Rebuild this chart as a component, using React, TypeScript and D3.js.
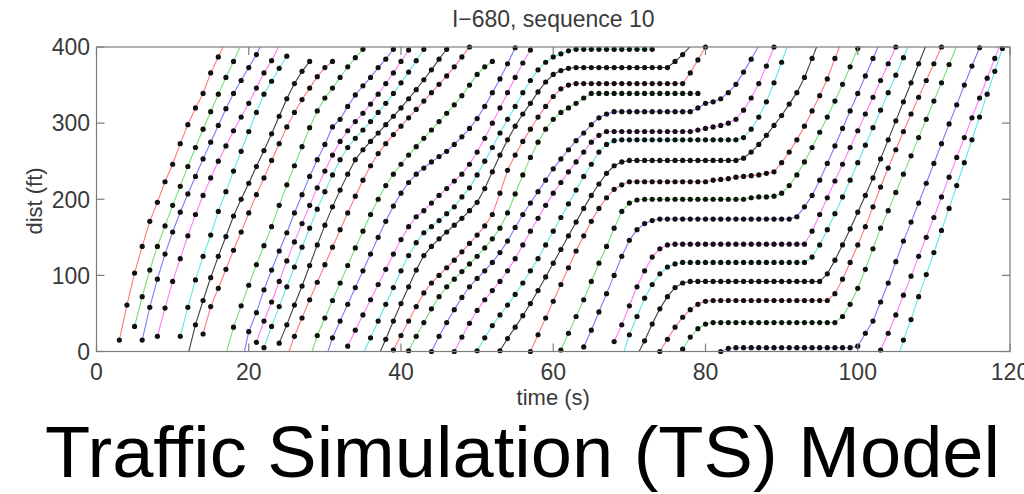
import React from "react";
import * as d3 from "d3";

// ---- axis ticks ----
const xTicks = [0, 20, 40, 60, 80, 100, 120];
const yTicks = [0, 100, 200, 300, 400];

// ---- vehicle colour order (MATLAB r g b m c k cycle) ----
const colorCycle = ["r", "g", "b", "m", "c", "k"];

// ---- start time (s) of each vehicle's first sample; samples are 1 s apart ----
const startTimes = [3, 5, 6, 8, 11, 12, 14, 17, 19, 21, 22, 24, 25, 28, 30, 33, 35, 37, 39, 41, 44, 47, 50, 53, 57, 61, 64, 68, 69, 71, 74, 77, 82, 103, 105];

// ---- distance (ft) of each vehicle, one value per second ----
const v01 = [15, 61, 103, 138, 171, 196, 223, 246, 273, 298, 320, 339, 366, 387, 408];
const v02 = [33, 72, 107, 138, 165, 192, 217, 243, 268, 292, 315, 338, 360, 381, 403];
const v03 = [15, 58, 95, 128, 157, 183, 207, 230, 253, 275, 297, 319, 339, 356, 373, 390, 410];
const v04 = [20, 57, 92, 122, 152, 180, 205, 228, 250, 270, 290, 308, 326, 346, 366, 382, 402];
const v05 = [20, 58, 94, 125, 153, 184, 210, 237, 263, 289, 314, 338, 355, 372, 388];
const v06 = [-5, 35, 67, 97, 125, 151, 178, 200, 221, 243, 264, 286, 309, 332, 352, 368, 381];
const v07 = [23, 59, 83, 108, 133, 157, 182, 206, 228, 251, 273, 295, 314, 331, 346, 361, 373, 381];
const v08 = [-4, 32, 60, 87, 114, 139, 164, 192, 219, 244, 269, 294, 316, 333, 346, 360, 374, 386, 397, 410];
const v09 = [-20, 26, 51, 81, 107, 132, 156, 182, 206, 230, 252, 272, 295, 305, 322, 337, 349, 360, 373, 384, 397, 410];
const v10 = [12, 40, 65, 92, 119, 144, 168, 192, 215, 237, 258, 276, 290, 302, 313, 325, 338, 352, 366, 381, 396, 410];
const v11 = [5, 33, 59, 85, 111, 137, 162, 187, 210, 232, 252, 268, 280, 291, 302, 314, 326, 339, 353, 367, 382, 397, 411];
const v12 = [11, 35, 61, 86, 113, 140, 166, 190, 212, 233, 252, 265, 276, 287, 298, 309, 320, 332, 344, 357, 370, 384, 397, 410];
const v13 = [-8, 20, 44, 68, 91, 114, 137, 160, 182, 204, 225, 244, 260, 273, 285, 296, 307, 318, 329, 340, 351, 362, 374, 387, 400, 412];
const v14 = [-10, 21, 44, 67, 90, 113, 136, 158, 180, 200, 218, 233, 246, 258, 269, 280, 291, 302, 313, 324, 336, 350, 364, 374, 381];
const v15 = [-12, 18, 40, 62, 84, 106, 128, 150, 171, 191, 208, 222, 233, 241, 249, 256, 263, 272, 282, 293, 306, 322, 340, 358, 378, 399, 420];
const v16 = [7, 28, 48, 68, 88, 108, 128, 147, 164, 177, 185, 195, 205, 214, 224, 233, 246, 262, 280, 300, 320, 340, 360, 379, 396, 414];
const v17 = [-3, 18, 40, 62, 84, 106, 126, 143, 156, 164, 172, 181, 190, 203, 215, 232, 250, 268, 287, 305, 322, 340, 356, 370, 380, 387, 391, 395, 397, 397, 397, 397, 397, 397, 397, 397, 397, 397, 397];
const v18 = [-6, 16, 40, 63, 85, 107, 126, 138, 148, 157, 166, 175, 185, 196, 214, 236, 258, 278, 296, 312, 326, 341, 354, 364, 369, 372, 373, 373, 373, 373, 373, 373, 373, 373, 373, 373, 373, 373, 373, 381, 390, 401];
const v19 = [2, 21, 40, 59, 77, 90, 100, 110, 120, 131, 142, 153, 165, 180, 208, 238, 258, 276, 292, 308, 322, 335, 345, 350, 352, 352, 352, 352, 352, 352, 352, 352, 352, 352, 352, 352, 352, 352, 352, 366, 383, 400, 418];
const v20 = [1, 20, 38, 56, 72, 85, 95, 105, 115, 125, 136, 148, 162, 182, 207, 232, 255, 275, 292, 305, 314, 320, 326, 333, 339, 339, 339, 339, 339, 339, 339, 339, 339, 339, 339, 339, 339, 339, 339];
const v21 = [0, 20, 38, 55, 71, 85, 96, 106, 117, 130, 145, 163, 180, 195, 210, 225, 240, 253, 265, 277, 287, 298, 307, 312, 315, 315, 315, 315, 315, 315, 315, 315, 315, 315, 315, 320, 326, 328, 332, 340, 351, 367, 384, 402];
const v22 = [0, 19, 37, 54, 68, 80, 92, 106, 122, 140, 158, 175, 192, 208, 222, 236, 249, 262, 275, 284, 289, 289, 289, 289, 289, 289, 289, 289, 289, 289, 289, 289, 291, 293, 295, 297, 300, 305, 317, 333, 352, 375, 400, 424];
const v23 = [1, 18, 34, 48, 61, 75, 90, 106, 122, 140, 158, 176, 194, 212, 230, 246, 262, 272, 277, 278, 278, 278, 278, 278, 278, 278, 278, 278, 278, 278, 278, 278, 278, 278, 278, 281, 292, 308, 328, 353, 380, 408];
const v24 = [1, 17, 32, 47, 63, 80, 98, 116, 134, 152, 170, 188, 205, 220, 234, 244, 249, 251, 251, 251, 251, 251, 251, 251, 251, 251, 251, 251, 251, 251, 251, 251, 254, 262, 272, 284, 297, 310, 325, 340, 360, 385, 410];
const v25 = [0, 22, 44, 66, 88, 110, 132, 152, 171, 188, 202, 213, 219, 223, 223, 223, 223, 223, 223, 223, 223, 223, 223, 223, 225, 226, 227, 229, 230, 231, 232, 234, 236, 248, 262, 278, 296, 316, 336, 358, 385, 410];
const v26 = [2, 24, 46, 68, 92, 116, 138, 162, 184, 195, 199, 200, 200, 200, 200, 200, 200, 200, 200, 200, 200, 200, 200, 200, 200, 202, 203, 203, 204, 208, 218, 232, 249, 268, 288, 308, 329, 351, 374, 398, 422];
const v27 = [6, 28, 52, 76, 100, 125, 146, 160, 168, 172, 174, 174, 174, 174, 174, 174, 174, 174, 174, 174, 174, 174, 174, 174, 174, 174, 174, 174, 177, 190, 205, 225, 247, 270, 293, 316, 339, 362, 385, 408];
const v28 = [13, 35, 60, 85, 106, 124, 135, 140, 141, 141, 141, 141, 141, 141, 141, 141, 141, 141, 141, 141, 141, 141, 141, 141, 141, 141, 158, 180, 202, 224, 246, 268, 290, 312, 334, 356, 378, 400, 422];
const v29 = [-10, 22, 46, 70, 88, 102, 111, 115, 117, 117, 117, 117, 117, 117, 117, 117, 117, 117, 117, 117, 117, 117, 117, 117, 117, 124, 140, 160, 181, 203, 225, 248, 271, 294, 317, 340, 363, 386, 409];
const v30 = [-5, 14, 36, 56, 72, 84, 90, 92, 92, 92, 92, 92, 92, 92, 92, 92, 92, 92, 92, 92, 92, 92, 92, 92, 92, 102, 120, 140, 161, 183, 205, 228, 253, 278, 303, 328, 353, 378, 403];
const v31 = [0, 16, 32, 45, 55, 62, 66, 67, 67, 67, 67, 67, 67, 67, 67, 67, 67, 67, 67, 67, 67, 67, 67, 76, 95, 117, 140, 164, 190, 216, 241, 265, 289, 312, 334, 356, 378, 400, 422];
const v32 = [3, 19, 30, 36, 38, 38, 38, 38, 38, 38, 38, 38, 38, 38, 38, 38, 38, 38, 38, 38, 38, 46, 62, 83, 108, 135, 162, 185, 209, 233, 257, 281, 305, 329, 353, 377, 401];
const v33 = [0, 4, 5, 5, 5, 5, 5, 5, 5, 5, 5, 5, 5, 5, 5, 5, 5, 5, 7, 24, 40, 65, 90, 118, 145, 170, 195, 221, 247, 273, 299, 324, 350, 375, 399, 424];
const v34 = [2, 24, 48, 74, 99, 125, 150, 176, 203, 229, 255, 281, 307, 333, 359, 385, 411];
const v35 = [-15, 15, 42, 72, 101, 130, 159, 188, 218, 248, 278, 308, 338, 368, 398, 428];

const vehicles = [v01, v02, v03, v04, v05, v06, v07, v08, v09, v10, v11, v12, v13, v14, v15, v16, v17, v18, v19, v20, v21, v22, v23, v24, v25, v26, v27, v28, v29, v30, v31, v32, v33, v34, v35];

const colorMap: Record<string, string> = {
  r: "#ff7a7a",
  g: "#74e074",
  b: "#7a7aff",
  m: "#ff7aff",
  c: "#5fe6e6",
  k: "#404040",
};

const W = 1024;
const H = 494;
const left = 96.5;
const right = 1010;
const top = 47;
const bottom = 351.5;

export default function App() {
  const x = d3.scaleLinear().domain([0, 120]).range([left, right]);
  const y = d3.scaleLinear().domain([0, 400]).range([bottom, top]);
  const line = d3
    .line<[number, number]>()
    .x((p) => x(p[0]))
    .y((p) => y(p[1]));

  const series = vehicles.map((arr, i) => {
    const t0 = startTimes[i];
    const pts: [number, number][] = arr.map((d, k) => [t0 + k, d]);
    return { pts, color: colorMap[colorCycle[i % 6]] };
  });

  const font = "'Liberation Sans', Arial, Helvetica, sans-serif";
  const axisColor = "#7c7c7c";
  const textColor = "#3a3a3a";

  return (
    <svg
      width={W}
      height={H}
      style={{ position: "absolute", left: 0, top: 0, background: "#fff" }}
    >
      <defs>
        <clipPath id="plotClip">
          <rect x={left} y={top} width={right - left} height={bottom - top} />
        </clipPath>
      </defs>
      <rect x={0} y={0} width={W} height={H} fill="#fff" />

      {/* trajectories */}
      {series.map((s, i) => (
        <g key={i}>
          <path
            d={line(s.pts) || ""}
            fill="none"
            stroke={s.color}
            strokeWidth={1.1}
            clipPath="url(#plotClip)"
          />
          {s.pts
            .filter((p) => p[1] >= 0 && p[1] <= 400 && p[0] >= 0 && p[0] <= 120)
            .map((p, k) => (
              <circle key={k} cx={x(p[0])} cy={y(p[1])} r={2.6} fill="#111" />
            ))}
        </g>
      ))}

      {/* axes box */}
      <rect
        x={left}
        y={top}
        width={right - left}
        height={bottom - top}
        fill="none"
        stroke={axisColor}
        strokeWidth={1.2}
      />
      {xTicks.map((t) => (
        <g key={"x" + t}>
          <line x1={x(t)} x2={x(t)} y1={bottom} y2={bottom - 8} stroke={axisColor} strokeWidth={1.2} />
          <line x1={x(t)} x2={x(t)} y1={top} y2={top + 8} stroke={axisColor} strokeWidth={1.2} />
          <text
            x={x(t)}
            y={380}
            textAnchor="middle"
            fontFamily={font}
            fontSize={23}
            fill={textColor}
          >
            {t}
          </text>
        </g>
      ))}
      {yTicks.map((v) => (
        <g key={"y" + v}>
          <line x1={left} x2={left + 8} y1={y(v)} y2={y(v)} stroke={axisColor} strokeWidth={1.2} />
          <line x1={right} x2={right - 8} y1={y(v)} y2={y(v)} stroke={axisColor} strokeWidth={1.2} />
          <text
            x={90}
            y={y(v)}
            dy="0.36em"
            textAnchor="end"
            fontFamily={font}
            fontSize={23}
            fill={textColor}
          >
            {v}
          </text>
        </g>
      ))}

      {/* titles */}
      <text
        x={(left + right) / 2}
        y={27}
        textAnchor="middle"
        fontFamily={font}
        fontSize={23}
        fill={textColor}
      >
        I−680, sequence 10
      </text>
      <text
        x={(left + right) / 2}
        y={405}
        textAnchor="middle"
        fontFamily={font}
        fontSize={22}
        fill={textColor}
      >
        time (s)
      </text>
      <text
        transform="translate(42,201) rotate(-90)"
        textAnchor="middle"
        fontFamily={font}
        fontSize={22}
        fill={textColor}
      >
        dist (ft)
      </text>
      <text
        x={45}
        y={477}
        fontFamily={font}
        fontSize={72}
        fill="#000"
        textLength={955}
        lengthAdjust="spacingAndGlyphs"
      >
        Traffic Simulation (TS) Model
      </text>
    </svg>
  );
}
